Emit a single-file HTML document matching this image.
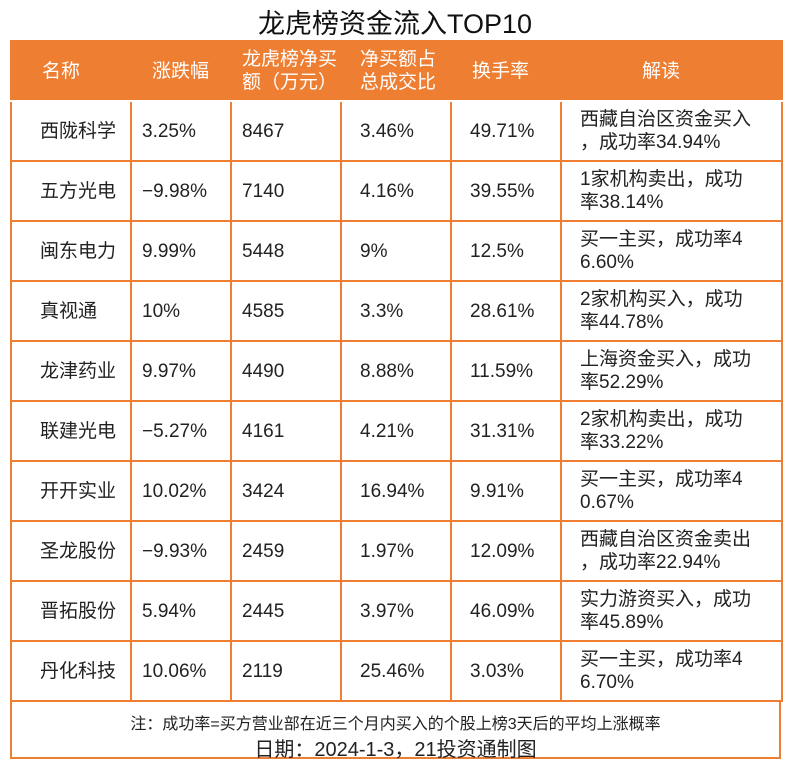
<!DOCTYPE html>
<html><head><meta charset="utf-8"><style>
body{margin:0;background:#fff;width:790px;height:770px;position:relative;font-family:"Liberation Sans","Noto Sans CJK SC",sans-serif;color:#222;}
.title{position:absolute;top:2px;left:0;width:790px;text-align:center;font-size:27px;color:#111;}
table{position:absolute;left:10px;top:40px;border-collapse:collapse;width:771px;table-layout:fixed;}
td,th{border:2px solid #ED7E32;font-size:19px;padding:0 0 0 10px;text-align:left;vertical-align:middle;line-height:23px;font-weight:normal;white-space:nowrap;}
th{background:#ED7E32;color:#fff;height:58px;border-color:#ED7E32;border-bottom-color:#fff;}
td{height:58px;}
td.n{padding-left:28px;}
td.e{padding-left:18px;padding-right:0;}
.foot{position:absolute;left:10px;top:700px;width:767px;height:57px;border:2px solid #ED7E32;border-top:none;}
.f1{position:absolute;top:10px;left:0;width:767px;text-align:center;font-size:16px;}
.f2{position:absolute;top:33px;left:0;width:767px;text-align:center;font-size:20px;}
</style></head><body>
<div class="title">龙虎榜资金流入TOP10</div>
<table>
<colgroup><col style="width:120px"><col style="width:100px"><col style="width:110px"><col style="width:110px"><col style="width:110px"><col style="width:221px"></colgroup>
<tr><th style="padding-left:30px">名称</th><th style="padding-left:20px">涨跌幅</th><th>龙虎榜净买<br>额（万元）</th><th style="padding-left:18px">净买额占<br>总成交比</th><th style="padding-left:20px">换手率</th><th style="padding-left:80px">解读</th></tr>
<tr><td class="n">西陇科学</td><td>3.25%</td><td>8467</td><td class="e">3.46%</td><td class="e">49.71%</td><td class="e">西藏自治区资金买入<br>，成功率34.94%</td></tr>
<tr><td class="n">五方光电</td><td>−9.98%</td><td>7140</td><td class="e">4.16%</td><td class="e">39.55%</td><td class="e">1家机构卖出，成功<br>率38.14%</td></tr>
<tr><td class="n">闽东电力</td><td>9.99%</td><td>5448</td><td class="e">9%</td><td class="e">12.5%</td><td class="e">买一主买，成功率4<br>6.60%</td></tr>
<tr><td class="n">真视通</td><td>10%</td><td>4585</td><td class="e">3.3%</td><td class="e">28.61%</td><td class="e">2家机构买入，成功<br>率44.78%</td></tr>
<tr><td class="n">龙津药业</td><td>9.97%</td><td>4490</td><td class="e">8.88%</td><td class="e">11.59%</td><td class="e">上海资金买入，成功<br>率52.29%</td></tr>
<tr><td class="n">联建光电</td><td>−5.27%</td><td>4161</td><td class="e">4.21%</td><td class="e">31.31%</td><td class="e">2家机构卖出，成功<br>率33.22%</td></tr>
<tr><td class="n">开开实业</td><td>10.02%</td><td>3424</td><td class="e">16.94%</td><td class="e">9.91%</td><td class="e">买一主买，成功率4<br>0.67%</td></tr>
<tr><td class="n">圣龙股份</td><td>−9.93%</td><td>2459</td><td class="e">1.97%</td><td class="e">12.09%</td><td class="e">西藏自治区资金卖出<br>，成功率22.94%</td></tr>
<tr><td class="n">晋拓股份</td><td>5.94%</td><td>2445</td><td class="e">3.97%</td><td class="e">46.09%</td><td class="e">实力游资买入，成功<br>率45.89%</td></tr>
<tr><td class="n">丹化科技</td><td>10.06%</td><td>2119</td><td class="e">25.46%</td><td class="e">3.03%</td><td class="e">买一主买，成功率4<br>6.70%</td></tr>
</table>
<div class="foot"><div class="f1">注：成功率=买方营业部在近三个月内买入的个股上榜3天后的平均上涨概率</div><div class="f2">日期：2024-1-3，21投资通制图</div></div>
</body></html>
